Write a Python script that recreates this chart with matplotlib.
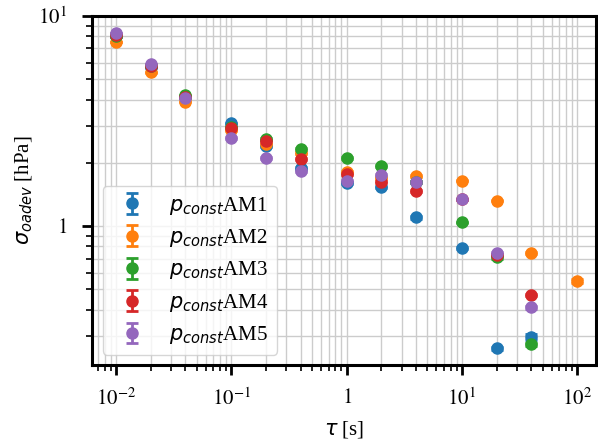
import matplotlib
matplotlib.use("Agg")
import matplotlib.pyplot as plt
from matplotlib.ticker import FuncFormatter, LogLocator
from matplotlib.font_manager import FontProperties
import numpy as np

plt.rcParams['font.family'] = ['Liberation Serif', 'DejaVu Serif']
plt.rcParams['mathtext.fontset'] = 'stix'

tau = [0.01, 0.02, 0.04, 0.1, 0.2, 0.4, 1, 2, 4, 10, 20, 40, 100]

am1 = [8.0, 5.7, 4.1, 3.09, 2.40, 1.89, 1.60, 1.53, 1.10, 0.786, 0.262, 0.296, np.nan]
am2 = [7.5, 5.4, 3.9, 2.86, 2.45, 2.23, 1.81, 1.70, 1.73, 1.64, 1.32, 0.744, 0.547]
am3 = [8.0, 5.75, 4.2, 2.95, 2.60, 2.33, 2.11, 1.93, 1.62, 1.04, 0.71, 0.274, np.nan]
am4 = [8.1, 5.75, 4.12, 2.93, 2.54, 2.08, 1.77, 1.62, 1.47, 1.34, 0.73, 0.47, np.nan]
am5 = [8.3, 5.9, 4.07, 2.62, 2.11, 1.83, 1.64, 1.75, 1.62, 1.34, 0.744, 0.41, np.nan]

err1 = [0.02, 0.02, 0.02, 0.02, 0.02, 0.02, 0.02, 0.02, 0.02, 0.01, 0.005, 0.01, np.nan]
err2 = [0.02, 0.02, 0.02, 0.02, 0.02, 0.02, 0.02, 0.02, 0.02, 0.01, 0.01, 0.01, 0.01]
err3 = [0.02, 0.02, 0.02, 0.02, 0.02, 0.02, 0.02, 0.02, 0.02, 0.01, 0.01, 0.005, np.nan]
err4 = [0.02, 0.02, 0.02, 0.02, 0.02, 0.02, 0.02, 0.02, 0.02, 0.01, 0.01, 0.005, np.nan]
err5 = [0.02, 0.02, 0.02, 0.02, 0.02, 0.02, 0.02, 0.02, 0.02, 0.01, 0.01, 0.005, np.nan]

labels = [r'$p_{const}$AM1', r'$p_{const}$AM2', r'$p_{const}$AM3',
          r'$p_{const}$AM4', r'$p_{const}$AM5']
series = [am1, am2, am3, am4, am5]
errors = [err1, err2, err3, err4, err5]
colors = ['#1f77b4', '#ff7f0e', '#2ca02c', '#d62728', '#9467bd']

fig = plt.figure(figsize=(5.98, 4.43), dpi=100)
ax = fig.add_axes([0.154, 0.176, 0.843, 0.788])

for y, e, c, l in zip(series, errors, colors, labels):
    ax.errorbar(tau, y, yerr=e, fmt='o', color=c, markersize=8, capsize=4,
                elinewidth=2, capthick=2, label=l)

ax.set_xscale('log')
ax.set_yscale('log')
ax.set_xlim(0.0062, 146)
ax.set_ylim(0.218, 10)

def fmt(v, pos):
    if v <= 0:
        return ''
    e = int(round(np.log10(v)))
    if abs(v - 10**e) > 1e-9 * 10**e:
        return ''
    if e == 0:
        return r'$1$'
    return r'$10^{%d}$' % e

ax.xaxis.set_major_formatter(FuncFormatter(fmt))
ax.yaxis.set_major_formatter(FuncFormatter(fmt))
ax.xaxis.set_minor_formatter(FuncFormatter(lambda v, p: ''))
ax.yaxis.set_minor_formatter(FuncFormatter(lambda v, p: ''))
ax.xaxis.set_minor_locator(LogLocator(base=10, subs=np.arange(2, 10), numticks=20))
ax.yaxis.set_minor_locator(LogLocator(base=10, subs=np.arange(2, 10), numticks=20))

ax.grid(True, which='both', color='#cccccc', linewidth=1.0)
ax.set_axisbelow(True)

for s in ax.spines.values():
    s.set_linewidth(2.2)

ax.tick_params(which='major', length=7, width=2, labelsize=15, direction='out')
ax.tick_params(axis='x', which='major', pad=10)
ax.tick_params(axis='y', which='major', pad=11)
ax.tick_params(which='minor', length=4, width=1.2, direction='out')

ax.set_xlabel(r'$\tau$ [s]', fontsize=15, labelpad=6, math_fontfamily='dejavusans')
ax.set_ylabel(r'$\sigma_{oadev}$ [hPa]', fontsize=15, math_fontfamily='dejavusans', labelpad=2)

ax.legend(loc='lower left', framealpha=0.8,
          prop=FontProperties(family='Liberation Serif', size=15, math_fontfamily='dejavusans'))

fig.savefig('out.png', dpi=100)
